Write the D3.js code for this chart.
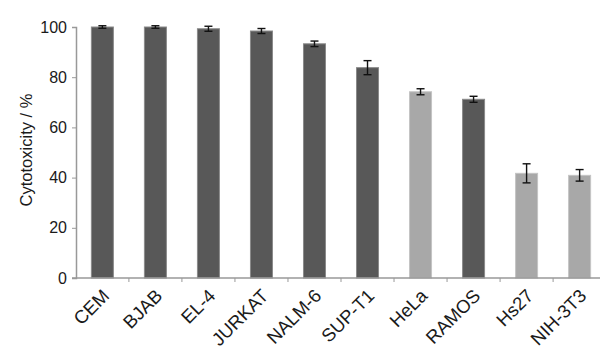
<!DOCTYPE html>
<html>
<head>
<meta charset="utf-8">
<script src="https://cdn.jsdelivr.net/npm/d3@7"></script>
<style>
  body { margin: 0; background: #fff; }
  svg text { font-family: "Liberation Sans", Arial, sans-serif; fill: #1a1a1a; }
</style>
</head>
<body>
<div class="chart"></div>
<script>
const cells = ["CEM", "BJAB", "EL-4", "JURKAT", "NALM-6", "SUP-T1", "HeLa", "RAMOS", "Hs27", "NIH-3T3"];
const cytotoxicity = [100, 100, 99.3, 98.4, 93.3, 83.8, 74.2, 71.2, 41.7, 40.9];
const errors = [0.5, 0.5, 1.0, 1.0, 1.1, 2.8, 1.2, 1.2, 3.8, 2.3];
const cancerous = [true, true, true, true, true, true, false, true, false, false]; // light grey = non-leukemia lines
const yTicks = [0, 20, 40, 60, 80, 100];

const width = 600, height = 353;
const x0 = 76, x1 = 606, yTop = 27, yBottom = 278;

const svg = d3.select("div.chart").append("svg")
    .attr("width", width)
    .attr("height", height);

const x = d3.scaleBand()
    .domain(cells)
    .range([x0, x1])
    .paddingInner(0.585)
    .paddingOuter(0.29);

const y = d3.scaleLinear()
    .domain([0, 100])
    .range([yBottom, yTop]);

// bars
svg.append("g")
  .selectAll("rect")
  .data(cells)
  .join("rect")
    .attr("x", d => x(d))
    .attr("y", (d, i) => y(cytotoxicity[i]))
    .attr("width", x.bandwidth())
    .attr("height", (d, i) => yBottom - y(cytotoxicity[i]))
    .attr("fill", (d, i) => cancerous[i] ? "#585858" : "#a8a8a8")
    .attr("stroke", (d, i) => cancerous[i] ? "#8a8a8a" : "#c4c4c4")
    .attr("stroke-width", 1);

// error bars
const eb = svg.append("g")
    .attr("stroke", "#111")
    .attr("stroke-width", 1.4);
cells.forEach((c, i) => {
  const cx = x(c) + x.bandwidth() / 2;
  const hi = y(cytotoxicity[i] + errors[i]);
  const lo = y(cytotoxicity[i] - errors[i]);
  eb.append("line").attr("x1", cx).attr("x2", cx).attr("y1", hi).attr("y2", lo);
  eb.append("line").attr("x1", cx - 4).attr("x2", cx + 4).attr("y1", hi).attr("y2", hi);
  eb.append("line").attr("x1", cx - 4).attr("x2", cx + 4).attr("y1", lo).attr("y2", lo);
});

// y axis
const yAxis = svg.append("g")
    .attr("transform", `translate(${x0},0)`)
    .call(d3.axisLeft(y).tickValues(yTicks).tickSize(4).tickPadding(5));
yAxis.select(".domain").attr("stroke", "#999").attr("stroke-width", 1.5);
yAxis.selectAll(".tick line").attr("stroke", "#999");
yAxis.selectAll(".tick text").attr("font-size", 16).attr("fill", "#1a1a1a");

// x axis: ticks sit on category boundaries
const boundaries = cells.slice(1).map(c => x(c) - x.step() * x.paddingInner() / 2);
const xAxis = svg.append("g");
xAxis.append("line")
    .attr("x1", x0 - 4).attr("x2", x1)
    .attr("y1", yBottom).attr("y2", yBottom)
    .attr("stroke", "#999").attr("stroke-width", 1.5);
xAxis.selectAll("line.tick")
  .data(boundaries)
  .join("line")
    .attr("class", "tick")
    .attr("x1", d => d).attr("x2", d => d)
    .attr("y1", yBottom).attr("y2", yBottom + 4)
    .attr("stroke", "#999");
xAxis.selectAll("text")
  .data(cells)
  .join("text")
    .attr("transform", d => `translate(${x(d) + x.bandwidth() / 2 + 8},${yBottom + 19}) rotate(-45)`)
    .attr("text-anchor", "end")
    .attr("font-size", 18.5)
    .text(d => d);

// y label
svg.append("text")
    .attr("transform", `translate(32,150) rotate(-90)`)
    .attr("text-anchor", "middle")
    .attr("font-size", 16.5)
    .text("Cytotoxicity / %");
</script>
</body>
</html>
